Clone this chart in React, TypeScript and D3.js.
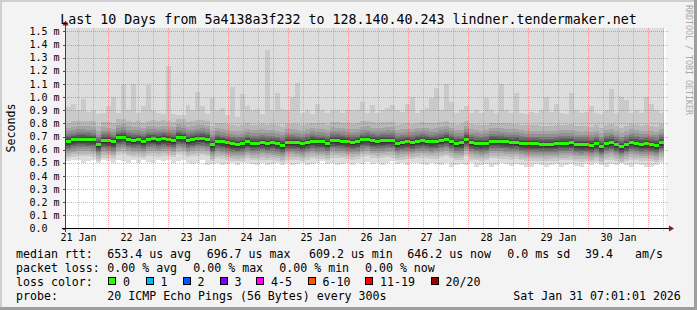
import React from 'react';
import * as d3 from 'd3';

// ---------- data (milliseconds) ----------
const medianMs = [
  0.665, 0.675, 0.68, 0.68, 0.678, 0.675, 0.64, 0.67, 0.668, 0.66,
  0.69, 0.695, 0.678, 0.672, 0.675, 0.665, 0.68, 0.682, 0.676, 0.683,
  0.678, 0.672, 0.695, 0.69, 0.672, 0.678, 0.685, 0.688, 0.68, 0.64,
  0.665, 0.66, 0.652, 0.645, 0.64, 0.645, 0.66, 0.65, 0.65, 0.655,
  0.648, 0.652, 0.645, 0.635, 0.655, 0.655, 0.652, 0.645, 0.655, 0.665,
  0.66, 0.66, 0.65, 0.67, 0.668, 0.665, 0.66, 0.655, 0.66, 0.675,
  0.678, 0.668, 0.665, 0.668, 0.672, 0.67, 0.65, 0.655, 0.66, 0.656,
  0.665, 0.668, 0.665, 0.66, 0.662, 0.672, 0.68, 0.665, 0.65, 0.652,
  0.68, 0.655, 0.648, 0.645, 0.648, 0.665, 0.665, 0.662, 0.66, 0.655,
  0.658, 0.648, 0.645, 0.645, 0.645, 0.643, 0.642, 0.643, 0.645, 0.65,
  0.65, 0.652, 0.64, 0.638, 0.64, 0.635, 0.645, 0.625, 0.65, 0.655,
  0.64, 0.625, 0.64, 0.655, 0.65, 0.643, 0.645, 0.64, 0.635, 0.655,
];
const highMs = [
  0.925, 0.95, 0.9, 0.985, 0.89, 0.9, 0.87, 0.88, 0.93, 1.0,
  0.88, 1.1, 0.9, 1.1, 0.88, 0.93, 1.09, 0.9, 0.88, 0.87,
  1.24, 0.87, 0.86, 0.86, 0.94, 0.9, 1.04, 0.93, 0.87, 0.99,
  0.9, 0.92, 0.86, 1.08, 0.85, 1.02, 0.93, 0.9, 0.91, 0.87,
  1.36, 0.9, 1.03, 0.91, 0.9, 1.0, 1.11, 0.88, 0.9, 0.87,
  0.95, 0.9, 0.88, 0.9, 0.9, 0.88, 0.9, 0.9, 0.9, 0.96,
  0.88, 0.94, 0.88, 0.9, 0.92, 0.94, 0.9, 0.89, 0.95, 1.0,
  0.88, 0.9, 0.92, 0.99, 1.07, 0.9, 1.1, 0.96, 0.88, 0.9,
  0.93, 0.88, 0.9, 0.88, 0.99, 0.9, 0.88, 1.1, 0.9, 0.88,
  1.03, 0.88, 0.87, 0.89, 0.88, 0.9, 1.0, 0.89, 0.95, 0.88,
  0.87, 1.03, 0.9, 0.88, 0.89, 0.93, 0.88, 0.87, 0.9, 1.06,
  0.88, 1.0, 0.98, 0.88, 0.9, 0.88, 1.0, 0.95, 0.9, 0.88,
];
const lowMs = [
  0.51, 0.525, 0.52, 0.5, 0.51, 0.525, 0.5, 0.52, 0.51, 0.5,
  0.525, 0.51, 0.5, 0.52, 0.5, 0.525, 0.505, 0.5, 0.52, 0.51,
  0.525, 0.5, 0.51, 0.525, 0.5, 0.49, 0.5, 0.52, 0.48, 0.49,
  0.5, 0.485, 0.49, 0.5, 0.48, 0.495, 0.5, 0.49, 0.485, 0.5,
  0.48, 0.49, 0.495, 0.48, 0.5, 0.485, 0.49, 0.5, 0.48, 0.49,
  0.5, 0.51, 0.49, 0.5, 0.485, 0.49, 0.5, 0.48, 0.5, 0.49,
  0.505, 0.49, 0.5, 0.485, 0.5, 0.51, 0.49, 0.5, 0.48, 0.495,
  0.5, 0.49, 0.485, 0.5, 0.49, 0.48, 0.5, 0.47, 0.485, 0.49,
  0.48, 0.5, 0.47, 0.485, 0.49, 0.465, 0.48, 0.5, 0.49, 0.475,
  0.49, 0.48, 0.465, 0.47, 0.49, 0.48, 0.47, 0.485, 0.49, 0.47,
  0.48, 0.49, 0.475, 0.47, 0.49, 0.48, 0.5, 0.485, 0.47, 0.49,
  0.48, 0.5, 0.485, 0.47, 0.49, 0.48, 0.47, 0.465, 0.48, 0.5,
];
// inner smoke layers: spread below / above the median (ms)
const innerBelow = [0.13, 0.11, 0.09, 0.075, 0.06, 0.05, 0.04, 0.03, 0.02];
const innerAbove = [0, 0.14, 0.1, 0.075, 0.055, 0.04, 0.028, 0.018, 0.01];
const smokeColors = ['#dddddd', '#cacaca', '#b7b7b7', '#a4a4a4', '#919191', '#7e7e7e', '#6b6b6b', '#585858', '#454545', '#323232'];

const yTickValues = [0, 0.1, 0.2, 0.3, 0.4, 0.5, 0.6, 0.7, 0.8, 0.9, 1.0, 1.1, 1.2, 1.3, 1.4, 1.5];
const yTickLabels = ['0.0', '0.1 m', '0.2 m', '0.3 m', '0.4 m', '0.5 m', '0.6 m', '0.7 m', '0.8 m', '0.9 m', '1.0 m', '1.1 m', '1.2 m', '1.3 m', '1.4 m', '1.5 m'];
const dayLabels = ['21 Jan', '22 Jan', '23 Jan', '24 Jan', '25 Jan', '26 Jan', '27 Jan', '28 Jan', '29 Jan', '30 Jan'];

const lossLabels = ['0', '1', '2', '3', '4-5', '6-10', '11-19', '20/20'];
const lossColors = ['#26ff00', '#00b8ff', '#0059ff', '#7e00ff', '#ff00ff', '#ff5500', '#ff0000', '#a10000'];
const lossBoxX = [108, 145.5, 182.5, 219.5, 256, 307.5, 365, 430.5];

const titleText = 'Last 10 Days from 5a4138a3f232 to 128.140.40.243 lindner.tendermaker.net';

const W = 697;
const H = 310;
const X0 = 66;
const X1 = 666;
const Y0 = 228.5;
const Y1 = 28.5;
const mono = '"DejaVu Sans Mono", monospace';

const startT = Date.UTC(2026, 0, 21, 7, 1, 1);
const endT = Date.UTC(2026, 0, 31, 7, 1, 1);
const HOUR = 3600e3;

export default function App() {
  const x = d3.scaleLinear().domain([startT, endT]).range([X0, X1]);
  const xCol = d3.scaleLinear().domain([0, medianMs.length]).range([X0, 663.5]);
  const y = d3.scaleLinear().domain([0, 1.522]).range([Y0, Y1]);

  const n = medianMs.length;
  const idx = d3.range(n + 1);
  const at = (arr: number[], i: number) => arr[Math.min(i, n - 1)];

  const layers: { color: string; path: string }[] = [];
  const mkArea = (lo: (i: number) => number, hi: (i: number) => number) =>
    d3.area<number>().x((i) => xCol(i)).y0((i) => y(lo(i))).y1((i) => y(hi(i))).curve(d3.curveStepAfter)(idx) || '';
  layers.push({ color: smokeColors[0], path: mkArea((i) => at(lowMs, i), () => 2) });
  layers.push({ color: smokeColors[1], path: mkArea((i) => at(medianMs, i) - innerBelow[0], (i) => at(highMs, i)) });
  for (let k = 1; k < innerBelow.length; k++) {
    layers.push({
      color: smokeColors[k + 1],
      path: mkArea((i) => at(medianMs, i) - innerBelow[k], (i) => at(medianMs, i) + innerAbove[k]),
    });
  }
  const medBand = d3.area<number>().x((i) => xCol(i)).y0((i) => y(at(medianMs, i)) + 1.5).y1((i) => y(at(medianMs, i)) - 1.5).curve(d3.curveStepAfter)(idx) || '';

  // grid
  const midnights: number[] = [];
  const minors: number[] = [];
  for (let t = Date.UTC(2026, 0, 21, 12); t < endT; t += 6 * HOUR) {
    const h = new Date(t).getUTCHours();
    if (h === 0) midnights.push(t);
    else minors.push(t);
  }
  const noons = dayLabels.map((_, i) => Date.UTC(2026, 0, 21 + i, 12));

  const legendRows: { y: number; items: [number, string][] }[] = [
    { y: 257.5, items: [[16, 'median rtt:'], [107.3, '653.4 us avg'], [206.7, '696.7 us max'], [309, '609.2 us min'], [407.3, '646.2 us now'], [507.3, '0.0 ms sd'], [585, '39.4'], [635, 'am/s']] },
    { y: 271.5, items: [[16, 'packet loss:'], [107.3, '0.00 % avg'], [193.3, '0.00 % max'], [279.3, '0.00 % min'], [365, '0.00 % now']] },
    { y: 285.5, items: [[16, 'loss color:']] },
    { y: 299.5, items: [[16, 'probe:'], [107.3, '20 ICMP Echo Pings (56 Bytes) every 300s'], [513.3, 'Sat Jan 31 07:01:01 2026']] },
  ];

  return (
    <svg width={W} height={H} style={{ position: 'absolute', left: 0, top: 0 }} xmlns="http://www.w3.org/2000/svg">
      <defs>
        <clipPath id="plotclip">
          <rect x={X0} y={Y1 - 0.5} width={X1 - X0} height={Y0 - Y1 + 0.5} />
        </clipPath>
      </defs>
      <rect x={0} y={0} width={W} height={H} fill="#f3f3f3" />
      {/* 3D frame */}
      <rect x={0} y={0} width={W} height={2} fill="#cfcfcf" />
      <rect x={0} y={0} width={2} height={H} fill="#cfcfcf" />
      <rect x={0} y={H - 3} width={W} height={3} fill="#9e9e9e" />
      <rect x={W - 3} y={0} width={3} height={H} fill="#9e9e9e" />

      {/* canvas */}
      <rect x={X0} y={Y1 - 0.5} width={X1 - X0} height={Y0 - Y1} fill="#ffffff" />
      <g clipPath="url(#plotclip)" shapeRendering="crispEdges">
        {layers.map((l, i) => (
          <path key={i} d={l.path} fill={l.color} />
        ))}
        <path d={medBand} fill="#26ff00" />
      </g>

      {/* grid */}
      <g shapeRendering="crispEdges">
        {minors.map((t, i) => (
          <line key={'mi' + i} x1={Math.round(x(t)) + 0.5} x2={Math.round(x(t)) + 0.5} y1={Y1 - 0.5} y2={Y0 + 2} stroke="rgba(128,128,128,0.45)" strokeDasharray="1,1" />
        ))}
        {midnights.map((t, i) => (
          <line key={'ma' + i} x1={Math.round(x(t)) + 0.5} x2={Math.round(x(t)) + 0.5} y1={Y1 - 0.5} y2={Y0 + 2} stroke="rgba(255,0,0,0.35)" strokeDasharray="1,1" />
        ))}
        {yTickValues.slice(1).map((v, i) => (
          <line key={'h' + i} x1={X0 - 3} x2={X1 + 2} y1={Math.round(y(v)) + 0.5} y2={Math.round(y(v)) + 0.5} stroke="rgba(255,0,0,0.35)" strokeDasharray="1,1" />
        ))}
        {yTickValues.map((v, i) => (
          <line key={'t' + i} x1={X0 - 3} x2={X0} y1={Math.round(y(v)) + 0.5} y2={Math.round(y(v)) + 0.5} stroke="#505050" />
        ))}
      </g>

      {/* axes */}
      <line x1={X0 - 0.5} x2={X0 - 0.5} y1={Y1 - 4} y2={Y0 + 3} stroke="#404040" shapeRendering="crispEdges" />
      <line x1={X0 - 4} x2={X1 + 4} y1={Y0} y2={Y0} stroke="#000000" shapeRendering="crispEdges" />
      <path d={`M${X0 - 3.5},${Y1 - 3} L${X0 + 2.5},${Y1 - 3} L${X0 - 0.5},${Y1 - 8} Z`} fill="#8b1a1a" />
      <path d={`M${X1 + 3},${Y0 - 3} L${X1 + 3},${Y0 + 3} L${X1 + 8},${Y0} Z`} fill="#8b1a1a" />

      {/* y labels */}
      <g fontFamily={mono} fontSize={10} fill="#000">
        {yTickValues.map((v, i) => (
          <text key={i} x={29.5} y={y(v) + 3.6}>{yTickLabels[i]}</text>
        ))}
        {noons.map((t, i) => (
          <text key={'d' + i} x={x(t)} y={240.7} textAnchor="middle">{dayLabels[i]}</text>
        ))}
      </g>

      {/* title */}
      <text x={348.5} y={24} textAnchor="middle" fontFamily={mono} fontSize={13.3} fill="#000">{titleText}</text>
      <text transform="translate(15.3,128) rotate(-90)" textAnchor="middle" fontFamily={mono} fontSize={11.6} fill="#000">Seconds</text>
      <text transform="translate(685.5,5) rotate(90)" fontFamily={mono} fontSize={8.3} fill="#a8a8a8">RRDTOOL / TOBI OETIKER</text>

      {/* legend */}
      <g fontFamily={mono} fontSize={11.6} fill="#000">
        {legendRows.map((r, ri) =>
          r.items.map(([lx, s], j) => (
            <text key={ri + '-' + j} x={lx} y={r.y} style={{ whiteSpace: 'pre' }}>{s}</text>
          ))
        )}
        {lossLabels.map((l, i) => (
          <g key={'l' + i}>
            <rect x={lossBoxX[i] + 0.5} y={277.5} width={7} height={7} fill={lossColors[i]} stroke="#000" strokeWidth={1} shapeRendering="crispEdges" />
            <text x={lossBoxX[i] + 15} y={285.5}>{l}</text>
          </g>
        ))}
      </g>
    </svg>
  );
}
